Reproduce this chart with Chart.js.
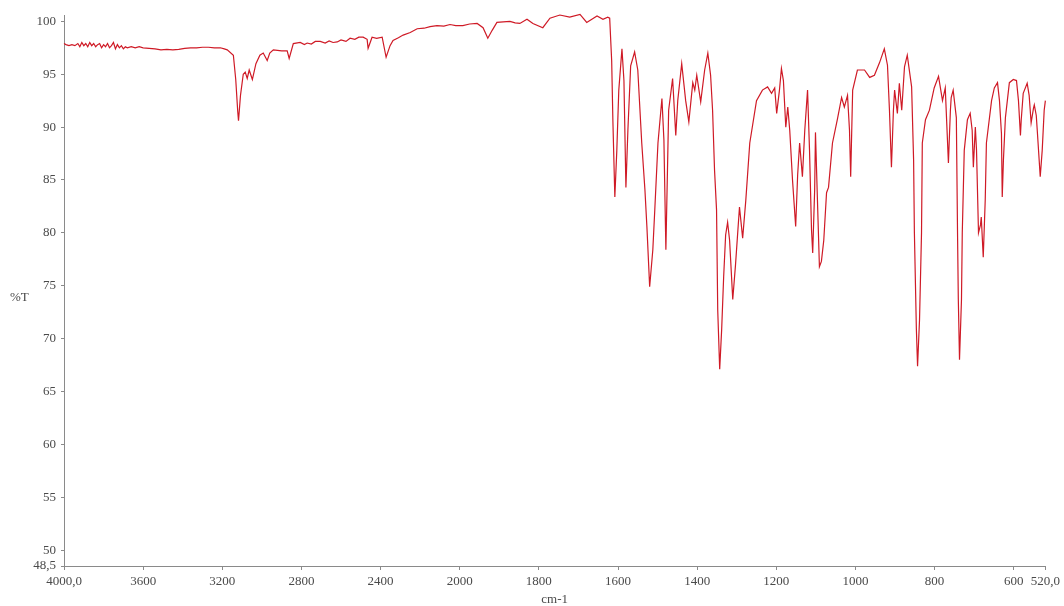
<!DOCTYPE html>
<html>
<head>
<meta charset="utf-8">
<title>IR spectrum</title>
<script src="https://cdn.jsdelivr.net/npm/chart.js@4.4.1/dist/chart.umd.min.js"></script>
<style>
  html, body { margin: 0; padding: 0; background: #fff; }
  #spectrum { display: block; }
</style>
</head>
<body>
<canvas id="spectrum" width="1064" height="606"></canvas>
<script>
// Wavenumber (cm-1) and transmittance (%T) of the recorded spectrum
const wavenumber = [
  4000, 3990, 3975, 3960, 3945, 3930, 3920, 3910, 3900, 3890, 3880, 3870, 3860, 3850, 3840,
  3830, 3820, 3810, 3800, 3790, 3780, 3770, 3760, 3750, 3740, 3730, 3720, 3710, 3700, 3690,
  3680, 3660, 3640, 3620, 3600, 3570, 3540, 3510, 3480, 3450, 3420, 3390, 3360, 3330, 3300,
  3270, 3240, 3210, 3190, 3175, 3144, 3132, 3122, 3118, 3108, 3094, 3084, 3074, 3064, 3048,
  3030, 3010, 2993, 2973, 2960, 2942, 2900, 2872, 2862, 2841, 2806, 2785, 2771, 2750, 2730,
  2705, 2680, 2660, 2640, 2619, 2600, 2575, 2554, 2530, 2510, 2488, 2468, 2463, 2443, 2420,
  2392, 2372, 2352, 2337, 2310, 2286, 2250, 2215, 2180, 2150, 2115, 2080, 2049, 2020, 1992,
  1975, 1956, 1941, 1929, 1918, 1906, 1890, 1873, 1860, 1848, 1830, 1815, 1790, 1772, 1747,
  1722, 1696, 1679, 1653, 1638, 1626, 1621, 1616, 1613, 1608, 1603, 1598, 1590, 1585, 1580,
  1575, 1568, 1558, 1550, 1540, 1532, 1527, 1520, 1512, 1507, 1499, 1489, 1484, 1479, 1474,
  1472, 1462, 1454, 1449, 1439, 1429, 1421, 1411, 1406, 1401, 1391, 1381, 1373, 1366, 1361,
  1356, 1351, 1348, 1343, 1338, 1333, 1328, 1323, 1318, 1310, 1303, 1293, 1285, 1277, 1267,
  1250, 1235, 1222, 1212, 1204, 1199, 1192, 1187, 1182, 1176, 1171, 1166, 1159, 1151, 1146,
  1141, 1134, 1128, 1121, 1116, 1111, 1108, 1103, 1101, 1096, 1091, 1086, 1080, 1073, 1068,
  1058, 1045, 1035, 1028, 1020, 1015, 1012, 1007, 995, 977, 964, 952, 939, 927, 919,
  914, 909, 904, 901, 894, 889, 883, 876, 869, 858, 853, 851, 846, 843, 838,
  833, 831, 823, 813, 801, 790, 780, 773, 765, 760, 758, 753, 745, 742, 740,
  737, 732, 730, 725, 717, 710, 705, 702, 697, 694, 689, 684, 682, 677, 672,
  669, 656, 649, 641, 636, 631, 629, 626, 621, 611, 601, 593, 588, 583, 581,
  576, 566, 561, 556, 550, 548, 543, 540, 533, 528, 523, 520
];
const transmittance = [
  97.9, 97.8, 97.7, 97.8, 97.7, 97.9, 97.6, 98.0, 97.7, 97.9, 97.6, 98.0, 97.7, 97.9, 97.6,
  97.8, 97.9, 97.5, 97.8, 97.6, 97.9, 97.5, 97.7, 98.0, 97.4, 97.8, 97.5, 97.7, 97.4, 97.6,
  97.5, 97.6, 97.5, 97.6, 97.5, 97.45, 97.4, 97.3, 97.35, 97.3, 97.35, 97.45, 97.5, 97.5, 97.55,
  97.55, 97.5, 97.5, 97.4, 97.3, 96.8, 94.5, 91.5, 90.6, 93.0, 95.0, 95.2, 94.6, 95.4, 94.5,
  96.0, 96.8, 97.0, 96.3, 97.0, 97.3, 97.2, 97.2, 96.5, 97.9, 98.0, 97.8, 97.95, 97.85, 98.1,
  98.1, 97.95, 98.15, 98.0, 98.05, 98.25, 98.1, 98.4, 98.3, 98.5, 98.5, 98.3, 97.45, 98.5, 98.4,
  98.5, 96.6, 97.7, 98.2, 98.45, 98.7, 98.95, 99.3, 99.35, 99.5, 99.6, 99.55, 99.7, 99.6, 99.6,
  99.75, 99.8, 99.4, 98.4, 99.15, 99.9, 99.95, 100.0, 99.85, 99.8, 100.2, 99.8, 99.4, 100.3, 100.6,
  100.4, 100.66, 99.9, 100.5, 100.2, 100.4, 100.3, 96.3, 90.7, 83.4, 87.8, 93.5, 97.4, 94.4, 84.3,
  89.7, 95.8, 97.1, 95.4, 88.5, 84.1, 80.6, 74.9, 78.4, 82.2, 88.5, 92.7, 88.8, 78.4, 87.8,
  91.6, 94.6, 89.2, 92.5, 96.0, 92.5, 90.5, 94.2, 93.5, 94.9, 92.4, 95.4, 97.0, 94.9, 91.6,
  85.9, 82.2, 72.7, 67.1, 70.9, 75.85, 79.8, 81.0, 79.3, 73.7, 77.0, 82.45, 79.5, 83.1, 88.5,
  92.5, 93.5, 93.8, 93.2, 93.7, 91.3, 93.5, 95.55, 94.4, 90.0, 91.9, 89.7, 85.0, 80.6, 85.5,
  88.5, 85.3, 89.7, 93.5, 87.8, 80.3, 78.1, 84.1, 89.5, 83.1, 76.8, 77.3, 79.3, 83.8, 84.3,
  88.5, 90.85, 92.8, 91.9, 93.0, 89.7, 85.3, 93.5, 95.4, 95.4, 94.7, 94.9, 96.1, 97.4, 95.85,
  91.6, 86.2, 91.6, 93.5, 91.3, 94.15, 91.6, 95.7, 96.8, 93.8, 86.9, 80.0, 70.9, 67.4, 71.8,
  80.0, 88.5, 90.7, 91.6, 93.7, 94.8, 92.5, 93.7, 86.6, 91.6, 92.8, 93.5, 90.9, 80.0, 73.7,
  68.0, 73.7, 80.0, 87.8, 90.7, 91.3, 89.7, 86.2, 90.0, 87.8, 80.0, 80.75, 81.5, 77.7, 83.1,
  88.5, 92.5, 93.7, 94.2, 92.5, 89.4, 83.4, 86.9, 90.9, 94.2, 94.5, 94.4, 92.5, 89.2, 90.7,
  93.2, 94.15, 93.0, 90.4, 91.8, 92.1, 91.1, 89.4, 85.3, 87.8, 91.6, 92.5
];

// Axis ticks
const xTicks = [4000, 3600, 3200, 2800, 2400, 2000, 1800, 1600, 1400, 1200, 1000, 800, 600, 520];
const yTicks = [48.5, 50, 55, 60, 65, 70, 75, 80, 85, 90, 95, 100];

// the wavenumber axis is compressed 2:1 above 2000 cm-1
function toAxis(w) {
  return w >= 2000 ? (4000 - w) / 2 : 1000 + (2000 - w);
}
function fromAxis(u) {
  return u <= 1000 ? 4000 - 2 * u : 2000 - (u - 1000);
}
function fmt(v) {
  // end values are printed with one decimal and a comma
  if (v === 4000 || v === 520 || v === 48.5) return v.toFixed(1).replace('.', ',');
  return String(Math.round(v));
}

const points = wavenumber.map((w, i) => ({ x: toAxis(w), y: transmittance[i] }));

const axisGrey = '#8a8a8a';
const labelColor = '#4a4a4a';
const labelFont = { family: "'Liberation Serif', 'Times New Roman', serif", size: 13 };

// axis titles: %T sits horizontally on the left, cm-1 under the x axis
const axisTitles = {
  id: 'axisTitles',
  afterDraw(chart) {
    const ctx = chart.ctx;
    const area = chart.chartArea;
    ctx.save();
    ctx.fillStyle = labelColor;
    ctx.font = "13px 'Liberation Serif', serif";
    ctx.textBaseline = 'middle';
    ctx.textAlign = 'left';
    ctx.fillText('%T', 10, (area.top + area.bottom) / 2 + 7);
    ctx.textAlign = 'center';
    ctx.fillText('cm-1', (area.left + area.right) / 2, 600);
    ctx.restore();
  }
};

new Chart(document.getElementById('spectrum'), {
  type: 'line',
  data: {
    datasets: [{
      data: points,
      borderColor: '#cf1a26',
      borderWidth: 1.2,
      pointRadius: 0,
      tension: 0,
      fill: false,
      clip: false
    }]
  },
  options: {
    responsive: false,
    animation: false,
    layout: { padding: { left: 0, right: 18, top: 15, bottom: 0 } },
    plugins: { legend: { display: false }, tooltip: { enabled: false } },
    scales: {
      x: {
        type: 'linear',
        min: toAxis(4000),
        max: toAxis(520),
        afterBuildTicks: s => { s.ticks = xTicks.map(w => ({ value: toAxis(w) })); },
        afterFit: s => { s.height = 40; },
        border: { color: axisGrey, width: 1 },
        grid: { drawOnChartArea: false, tickLength: 4, color: axisGrey },
        ticks: {
          autoSkip: false,
          maxRotation: 0,
          padding: 4,
          color: labelColor,
          font: labelFont,
          callback: v => fmt(fromAxis(v))
        }
      },
      y: {
        min: 48.5,
        max: 100.6,
        afterBuildTicks: s => { s.ticks = yTicks.map(v => ({ value: v })); },
        afterFit: s => { s.width = 64; },
        border: { color: axisGrey, width: 1 },
        grid: { drawOnChartArea: false, tickLength: 3, color: axisGrey },
        ticks: {
          autoSkip: false,
          padding: 5,
          color: labelColor,
          font: labelFont,
          callback: v => fmt(v)
        }
      }
    }
  },
  plugins: [axisTitles]
});
</script>
</body>
</html>
